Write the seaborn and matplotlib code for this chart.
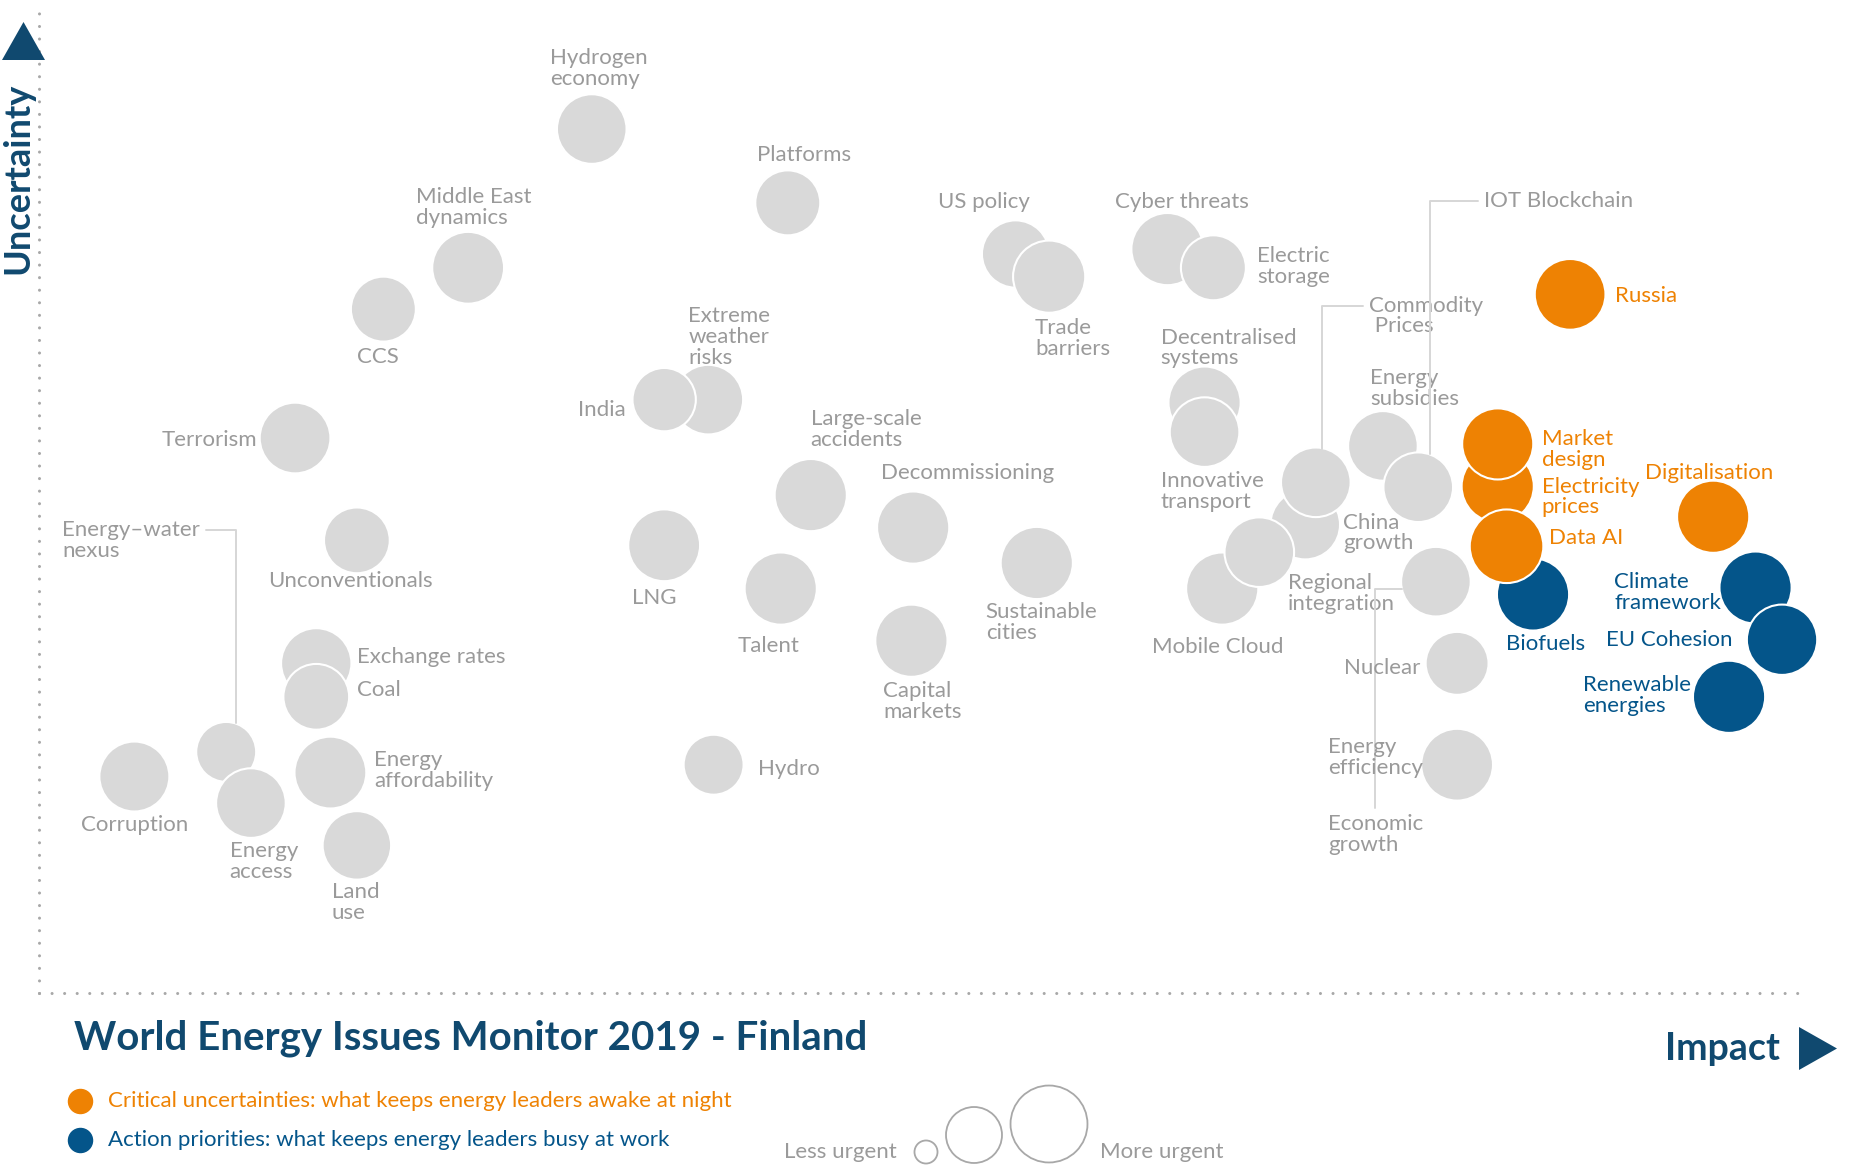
import numpy as np
import pandas as pd
import seaborn as sns
import matplotlib.pyplot as plt
from matplotlib.patches import Polygon
from matplotlib.transforms import offset_copy

# issues in drawing order (later ones sit on top of earlier ones)
issues = [
    "Hydrogen\neconomy", "Platforms", "Middle East\ndynamics", "CCS", "Terrorism",
    "Extreme\nweather\nrisks", "India", "Large-scale\naccidents", "Decommissioning", "LNG",
    "Talent", "Capital\nmarkets", "Sustainable\ncities", "Hydro", "Unconventionals",
    "Energy–water\nnexus", "Exchange rates", "Coal", "Corruption", "Energy\naccess",
    "Energy\naffordability", "Land\nuse", "US policy", "Trade\nbarriers", "Cyber threats",
    "Electric\nstorage", "Decentralised\nsystems", "Innovative\ntransport", "China\ngrowth",
    "Commodity\n Prices", "Mobile Cloud", "Regional\nintegration", "Energy\nsubsidies",
    "IOT Blockchain", "Economic\ngrowth", "Nuclear", "Energy\nefficiency",
    "Russia", "Electricity\nprices", "Market\ndesign", "Biofuels", "Data AI",
    "Digitalisation", "Climate\nframework", "EU Cohesion", "Renewable\nenergies",
]
impact = [
    31.3, 42.4, 24.3, 19.5, 14.5,
    37.9, 35.4, 43.7, 49.5, 35.4,
    42.0, 49.4, 56.5, 38.2, 18.0,
    10.6, 15.7, 15.7, 5.4, 12.0,
    16.5, 18.0, 55.3, 57.2, 63.9,
    66.5, 66.0, 66.0, 71.7,
    72.3, 67.0, 69.1, 76.1,
    78.1, 79.1, 80.3, 80.3,
    86.7, 82.6, 82.6, 84.6, 83.1,
    94.8, 97.2, 98.7, 95.7,
]
uncertainty = [
    87.8, 80.3, 73.7, 69.5, 56.4,
    60.3, 60.3, 50.6, 47.3, 45.5,
    41.1, 35.8, 43.7, 23.2, 46.0,
    24.5, 33.5, 30.1, 22.0, 19.3,
    22.4, 15.0, 75.1, 72.8, 75.6,
    73.7, 60.0, 57.0, 47.6,
    51.9, 41.1, 44.8, 55.6,
    51.4, 41.8, 33.5, 23.2,
    71.0, 51.5, 55.8, 40.5, 45.4,
    48.4, 41.2, 35.9, 30.1,
]
urgency = [
    93, 81, 99, 81, 96,
    93, 77, 100, 100, 99,
    100, 100, 100, 69, 83,
    69, 95, 83, 94, 93,
    99, 90, 87, 100, 100,
    81, 100, 93, 93,
    93, 100, 93, 93,
    93, 93, 76, 99,
    96, 100, 97, 100, 104,
    100, 100, 95, 100,
]
group = ["other"] * 37 + [
    "critical", "critical", "critical", "action", "critical",
    "critical", "action", "action", "action",
]

legend_texts = {
    "critical": "Critical uncertainties: what keeps energy leaders awake at night",
    "action": "Action priorities: what keeps energy leaders busy at work",
}
title = "World Energy Issues Monitor 2019 - Finland"

palette = {"other": "#d9d9d9", "critical": "#ee8203", "action": "#04558a"}
text_color = {"other": "#9a9a9a", "critical": "#ee8203", "action": "#04558a"}
NAVY = "#10496f"
DOTS = "#a8a8a8"

# label offsets from bubble centre (sketch px, y down) and alignment
label_pos = {
    "Hydrogen\neconomy": (-35, -51, "left"), "Platforms": (-26, -40, "left"),
    "Middle East\ndynamics": (-44, -51, "left"), "CCS": (-22, 40, "left"),
    "Terrorism": (-32, 2, "right"), "Extreme\nweather\nrisks": (-17, -53, "left"),
    "India": (-32, 9, "right"), "Large-scale\naccidents": (0, -55, "left"),
    "Decommissioning": (-27, -46, "left"), "LNG": (-27, 44, "left"),
    "Talent": (-36, 48, "left"), "Capital\nmarkets": (-24, 51, "left"),
    "Sustainable\ncities": (-43, 50, "left"), "Hydro": (37, 4, "left"),
    "Unconventionals": (-75, 34, "left"), "Energy–water\nnexus": (-138, -178, "left"),
    "Exchange rates": (34, -5, "left"), "Coal": (34, -6, "left"),
    "Corruption": (-45, 41, "left"), "Energy\naccess": (-18, 49, "left"),
    "Energy\naffordability": (37, -2, "left"), "Land\nuse": (-21, 48, "left"),
    "US policy": (-65, -44, "left"), "Trade\nbarriers": (-12, 52, "left"),
    "Cyber threats": (-44, -40, "left"), "Electric\nstorage": (37, -1, "left"),
    "Decentralised\nsystems": (-37, -46, "left"), "Innovative\ntransport": (-37, 50, "left"),
    "China\ngrowth": (32, 7, "left"), "Commodity\n Prices": (45, -140, "left"),
    "Mobile Cloud": (-59, 49, "left"), "Regional\nintegration": (24, 35, "left"),
    "Energy\nsubsidies": (-11, -48, "left"), "IOT Blockchain": (55, -241, "left"),
    "Economic\ngrowth": (-91, 213, "left"), "Nuclear": (-31, 4, "right"),
    "Energy\nefficiency": (-109, -6, "left"), "Russia": (38, 1, "left"),
    "Electricity\nprices": (37, 9, "left"), "Market\ndesign": (37, 5, "left"),
    "Biofuels": (-23, 42, "left"), "Data AI": (36, -7, "left"),
    "Digitalisation": (-57, -37, "left"), "Climate\nframework": (-119, 4, "left"),
    "EU Cohesion": (-148, 0, "left"), "Renewable\nenergies": (-123, -1, "left"),
}
# elbow leader lines: relpos on the label, angle leaving label, angle into bubble,
# and where the line meets the bubble relative to its centre (sketch px, y down)
connectors = {
    "IOT Blockchain": ((0, 0.5), 0, 90, (10, 0)),
    "Commodity\n Prices": ((0, 0.75), 0, 90, (5, 0)),
    "Energy–water\nnexus": ((1, 0.75), 0, 90, (8, 0)),
    "Economic\ngrowth": ((0.5, 1), 90, 0, (0, 6)),
}
K = 0.855  # sketch px -> points

sns.set_style("white")
plt.rcParams["font.family"] = ["Lato", "DejaVu Sans"]

W, H = 1852, 1165
fig = plt.figure(figsize=(W / 100, H / 100), dpi=100)


def fp(x, y):
    return (x / W, 1 - y / H)


ax = fig.add_axes([39 / W, 1 - 993 / H, (1805 - 39) / W, (993 - 9) / H])
for side in ["top", "right"]:
    ax.spines[side].set_visible(False)
for side in ["left", "bottom"]:
    sp = ax.spines[side]
    sp.set_color(DOTS)
    sp.set_linewidth(2.2)
    sp.set_linestyle((0, (0.01, 4.1)))
    sp.set_capstyle("round")

df = pd.DataFrame({"issue": issues, "impact": impact, "uncertainty": uncertainty,
                   "urgency": urgency, "group": group})
sns.scatterplot(data=df, x="impact", y="uncertainty", hue="group", palette=palette,
                size="urgency", sizes=(0, 2970), size_norm=(0, 110),
                edgecolor="white", linewidth=1.5, alpha=1, legend=False,
                ax=ax, clip_on=False, zorder=3)
ax.set(xlim=(0, 100), ylim=(0, 100), xlabel="", ylabel="", xticks=[], yticks=[])

for issue, x, y, u, g in zip(issues, impact, uncertainty, urgency, group):
    dx, dy, ha = label_pos[issue]
    kw = {}
    if issue in connectors:
        relpos, a, b, (ox, oy) = connectors[issue]
        dx, dy = dx - ox, dy - oy
        r = np.sqrt(27 * u) / 2
        kw["xycoords"] = offset_copy(ax.transData, fig=fig, x=ox * K, y=-oy * K, units="points")
        kw["arrowprops"] = dict(arrowstyle="-", color="#d6d6d6", lw=1.4, relpos=relpos,
                                connectionstyle=f"angle,angleA={a},angleB={b},rad=0",
                                shrinkA=2, shrinkB=r - 1)
    ax.annotate(issue, (x, y), xytext=(dx * K, -dy * K), textcoords="offset points",
                ha=ha, va="center", fontsize=16, color=text_color[g], linespacing=1.05,
                annotation_clip=False, zorder=4, **kw)

# axis names and arrows
fig.text(*fp(18, 178), "Uncertainty", rotation=90, ha="center", va="center",
         fontsize=26, fontweight="bold", color=NAVY)
fig.text(*fp(1780, 1049), "Impact", ha="right", va="center",
         fontsize=27, fontweight="bold", color=NAVY)
fig.patches.append(Polygon([fp(2, 60), fp(45, 60), fp(23.5, 22)], closed=True,
                           facecolor=NAVY, edgecolor="none", transform=fig.transFigure))
fig.patches.append(Polygon([fp(1799, 1027), fp(1799, 1070), fp(1837, 1048.5)], closed=True,
                           facecolor=NAVY, edgecolor="none", transform=fig.transFigure))

fig.text(*fp(74, 1038), title, ha="left", va="center", fontsize=29,
         fontweight="bold", color=NAVY)

# colour legend
for g, yy in [("critical", 1101), ("action", 1140)]:
    ax.scatter(*fp(80, yy), s=300, color=palette[g], transform=fig.transFigure,
               clip_on=False, zorder=5)
    fig.text(*fp(108, yy), legend_texts[g], ha="left", va="center", fontsize=16,
             color=text_color[g])

# urgency legend
for (cx, cy), s in zip([(926, 1152), (974, 1135), (1049, 1124)], [275, 1625, 3070]):
    ax.scatter(*fp(cx, cy), s=s, facecolors="none", edgecolors=DOTS, linewidths=1.3,
               transform=fig.transFigure, clip_on=False, zorder=5)
fig.text(*fp(897, 1152), "Less urgent", ha="right", va="center", fontsize=16, color="#9a9a9a")
fig.text(*fp(1100, 1152), "More urgent", ha="left", va="center", fontsize=16, color="#9a9a9a")

fig.savefig("out.png", dpi=100)
